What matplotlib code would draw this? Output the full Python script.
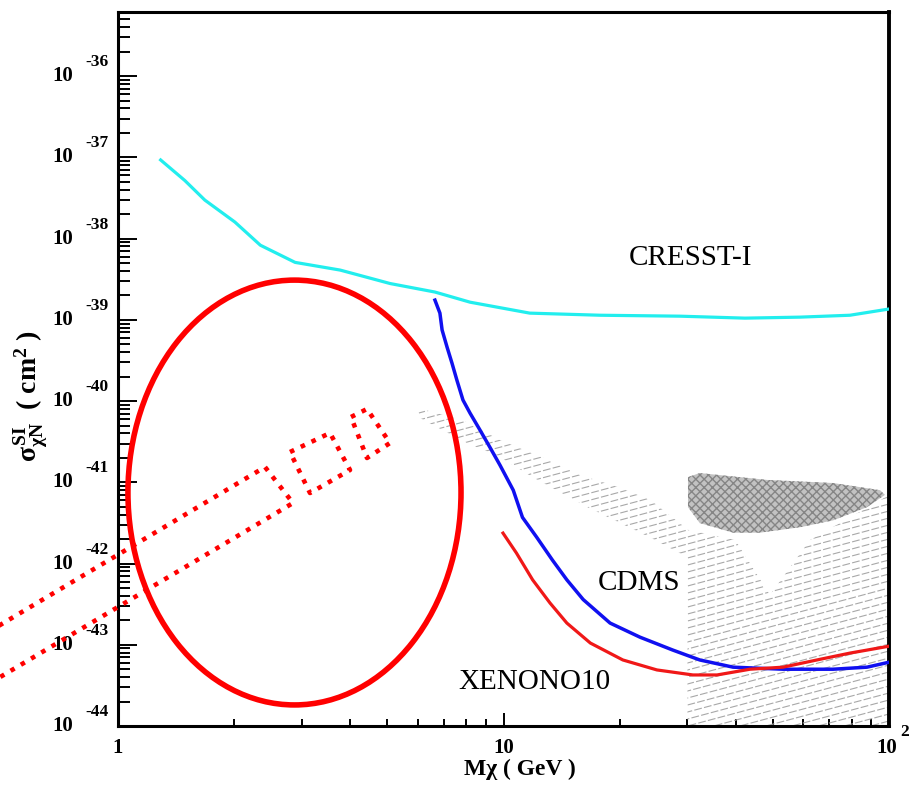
import numpy as np
import matplotlib
matplotlib.use("Agg")
import matplotlib.pyplot as plt
from matplotlib.patches import Ellipse, Polygon
from matplotlib.collections import LineCollection
from matplotlib.transforms import blended_transform_factory
from matplotlib.ticker import LogLocator, NullFormatter

plt.rcParams["font.family"] = "Liberation Serif"
plt.rcParams["mathtext.fontset"] = "custom"
plt.rcParams["mathtext.rm"] = "Liberation Serif:bold"
plt.rcParams["mathtext.it"] = "Liberation Serif:bold"
plt.rcParams["mathtext.bf"] = "Liberation Serif:bold"

# ---- limit curves (mass in GeV, cross section in cm^2) ----
cresst_m = [1.29, 1.49, 1.68, 2.01, 2.34, 2.88, 3.77, 5.08, 6.64, 8.19,
            11.7, 17.8, 28.7, 42.3, 58.7, 79.2, 100]
cresst_s = [9.3e-38, 5.2e-38, 2.98e-38, 1.6e-38, 8.3e-39, 5.1e-39, 4.1e-39,
            2.8e-39, 2.2e-39, 1.65e-39, 1.21e-39, 1.14e-39, 1.11e-39,
            1.05e-39, 1.08e-39, 1.14e-39, 1.36e-39]

cdms_m = [6.64, 6.84, 6.93, 7.14, 7.35, 7.57, 7.85, 8.19, 8.69, 9.22, 9.79,
          10.6, 11.2, 12.2, 13.4, 14.6, 16.1, 18.9, 22.6, 27.5, 32.3, 39.4,
          53.1, 71.6, 87.7, 100]
cdms_s = [1.75e-39, 1.21e-39, 7.5e-40, 4.6e-40, 2.94e-40, 1.81e-40, 1.03e-40,
          7.1e-41, 4.4e-41, 2.7e-41, 1.63e-41, 8.0e-42, 3.7e-42, 2.1e-42,
          1.1e-42, 6.3e-43, 3.6e-43, 1.85e-43, 1.24e-43, 8.6e-44, 6.5e-44,
          5.3e-44, 5.0e-44, 5.0e-44, 5.3e-44, 6.1e-44]

xenon_m = [9.97, 10.8, 11.9, 13.2, 14.6, 16.8, 20.4, 25.0, 31.0, 35.8, 43.6,
           53.1, 65.0, 79.2, 100]
xenon_s = [2.37e-42, 1.35e-42, 6.3e-43, 3.27e-43, 1.85e-43, 1.05e-43,
           6.5e-44, 4.9e-44, 4.25e-44, 4.25e-44, 5.0e-44, 5.3e-44, 6.5e-44,
           7.9e-44, 9.6e-44]

# ---- hatched allowed region ----
hatch_m = [6.0, 7.85, 9.8, 12.7, 15.8, 19.7, 24.0, 30.1, 39.9, 49.1, 62.4,
           94.8, 100, 100, 30, 30, 24.0, 16.5, 11.9, 9.6, 8.04, 6.07]
hatch_s = [8.2e-41, 5.8e-41, 3.3e-41, 2.0e-41, 1.23e-41, 8.8e-42, 6.1e-42,
           2.6e-42, 1.95e-42, 4.1e-43, 1.95e-42, 6.0e-42, 7.0e-42, 1e-44,
           1e-44, 1.2e-42, 2.1e-42, 4.95e-42, 1.16e-41, 2.16e-41, 3.04e-41,
           6.2e-41]

# ---- grey dotted blob ----
blob_m = [30.1, 32.3, 48.3, 71.6, 94.8, 97.6, 87.7, 71.6, 58.8, 46.3, 39.4,
          32.3, 30.1, 30.1]
blob_s = [1.16e-41, 1.3e-41, 1.07e-41, 9.8e-42, 8.0e-42, 7.0e-42, 4.95e-42,
          3.4e-42, 2.8e-42, 2.4e-42, 2.4e-42, 3.15e-42, 4.95e-42, 8.0e-42]

labels = ["CRESST-I", "CDMS", "XENONO10"]
label_m = [30.6, 22.5, 12.0]
label_s = [5.75e-39, 5.75e-43, 3.5e-44]

decades = list(range(-44, -35))

W, H = 924, 792
fig = plt.figure(figsize=(W / 100, H / 100), dpi=100)
ax = fig.add_axes([118 / W, 1 - 726 / H, 771 / W, 714 / H])
ax.set_xscale("log")
ax.set_yscale("log")
ax.set_xlim(1, 100)
ax.set_ylim(1e-44, 10 ** -35.21)

# hatched region: light grey shallow lines clipped to the polygon
hatch_poly = Polygon(np.column_stack([hatch_m, hatch_s]), closed=True,
                     facecolor="none", edgecolor="none")
ax.add_patch(hatch_poly)
k = np.tan(np.radians(15)) * 771 / 714
step = 7 / 714
segs = [[(0, c), (1, c + k)] for c in np.arange(-0.4, 0.8, step)]
lc = LineCollection(segs, colors="#a8a8a8", linewidths=0.8,
                    linestyles=(0, (7, 2)), transform=ax.transAxes)
ax.add_collection(lc)
lc.set_clip_path(hatch_poly)

blob = Polygon(np.column_stack([blob_m, blob_s]), closed=True,
               facecolor="#c2c2c2", edgecolor="#858585", hatch="xxxx",
               linewidth=0, zorder=2)
ax.add_patch(blob)

ax.plot(cresst_m, cresst_s, color="#22EEEE", lw=2.3, zorder=3)
ax.plot(cdms_m, cdms_s, color="#1010F0", lw=2.5, zorder=3)
ax.plot(xenon_m, xenon_s, color="#F01818", lw=2.3, zorder=3)

for t, m, s in zip(labels, label_m, label_s):
    ax.text(m, s, t, fontsize=21, ha="center", va="center", zorder=4)

# red annotation ellipse
ax.add_patch(Ellipse((0.2289, 0.327), 0.432, 0.595, transform=ax.transAxes,
                     fill=False, edgecolor="#FF0000", lw=4, zorder=5,
                     clip_on=False))

# red dotted boxes (pixel coordinates of the overlay drawing)
boxes = [
    [(-20, 637), (265, 467), (293, 503), (-20, 689)],
    [(290, 452), (330, 433), (350, 470), (310, 493)],
    [(351, 417), (367, 409), (390, 443), (367, 458)],
]
for b in boxes:
    pts = b + [b[0]]
    xs = [p[0] / W for p in pts]
    ys = [1 - p[1] / H for p in pts]
    line = plt.Line2D(xs, ys, transform=fig.transFigure, color="#FF0000",
                      lw=3.3, linestyle=(0, (1, 1.6)),
                      dash_capstyle="butt", zorder=6)
    fig.add_artist(line)

# axes styling
for sp in ax.spines.values():
    sp.set_linewidth(2.2)
ax.spines["right"].set_linewidth(2.8)
ax.yaxis.set_major_locator(LogLocator(base=10, numticks=30))
ax.yaxis.set_minor_locator(LogLocator(base=10, subs=range(2, 10), numticks=30))
ax.xaxis.set_major_locator(LogLocator(base=10, numticks=30))
ax.xaxis.set_minor_locator(LogLocator(base=10, subs=range(2, 10), numticks=30))
ax.yaxis.set_minor_formatter(NullFormatter())
ax.xaxis.set_minor_formatter(NullFormatter())
ax.tick_params(which="both", direction="in", top=False, right=False,
               labelleft=False, labelbottom=False)
ax.tick_params(axis="y", which="major", length=14, width=1.4)
ax.tick_params(axis="y", which="minor", length=8.5, width=1.4)
ax.tick_params(axis="x", which="major", length=9.5, width=1.4)
ax.tick_params(axis="x", which="minor", length=5, width=1.4)

# tick labels in "10  ^-NN" style
ytr = blended_transform_factory(ax.transAxes, ax.transData)
for e in decades:
    ax.annotate("10", xy=(0, 10.0 ** e), xycoords=ytr, xytext=(-55, 0),
                textcoords="offset pixels", ha="center", va="center",
                fontsize=15, fontweight="bold", annotation_clip=False)
    ax.annotate(str(e), xy=(0, 10.0 ** e), xycoords=ytr, xytext=(-21, 14),
                textcoords="offset pixels", ha="center", va="center",
                fontsize=12.5, fontweight="bold", annotation_clip=False)

xtr = blended_transform_factory(ax.transData, ax.transAxes)
for val, txt in [(1, "1"), (10, "10"), (100, "10")]:
    dx = -2 if val == 100 else 0
    ax.annotate(txt, xy=(val, 0), xycoords=xtr, xytext=(dx, -22),
                textcoords="offset pixels", ha="center", va="center",
                fontsize=15, fontweight="bold", annotation_clip=False)
ax.annotate("2", xy=(100, 0), xycoords=xtr, xytext=(16, -6),
            textcoords="offset pixels", ha="center", va="center",
            fontsize=12.5, fontweight="bold", annotation_clip=False)

fig.text(520 / W, 1 - 769 / H, "Mχ ( GeV )", ha="center", va="center",
         fontsize=17, fontweight="bold")
fig.text(31 / W, 1 - 396 / H, r"$\sigma^{SI}_{\chi N}$  ( cm$^{2}$ )",
         rotation=90, ha="center", va="center", fontsize=20,
         fontweight="bold")

fig.savefig("out.png", dpi=100)
